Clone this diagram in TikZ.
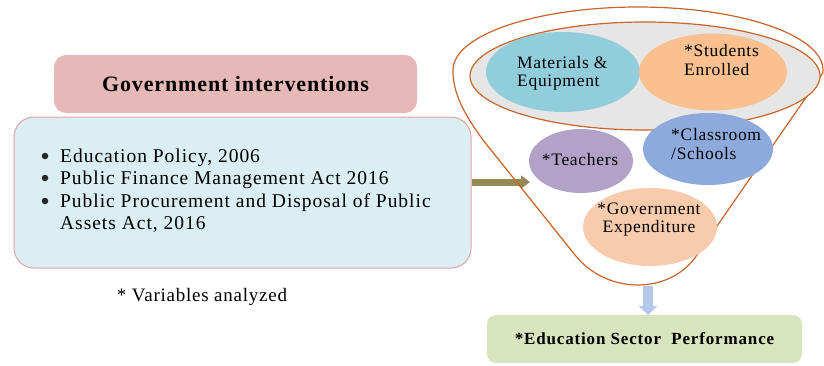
\documentclass[tikz,border=0pt]{standalone}
\usepackage{fontspec}
\setmainfont{Liberation Serif}
\usetikzlibrary{arrows.meta,shapes.geometric}
\definecolor{titlepink}{HTML}{E6B9B8}
\definecolor{boxblue}{HTML}{DAEEF3}
\definecolor{boxborder}{HTML}{E3A3A3}
\definecolor{olive}{HTML}{948A54}
\definecolor{funnelline}{HTML}{C8642A}
\definecolor{innergray}{HTML}{E6E6E6}
\definecolor{teal}{HTML}{92CDDC}
\definecolor{peach}{HTML}{FAC090}
\definecolor{lilac}{HTML}{B3A2C7}
\definecolor{cornflower}{HTML}{8EA9DB}
\definecolor{lightpeach}{HTML}{F8CBAD}
\definecolor{arrowblue}{HTML}{B4C7E7}
\definecolor{sage}{HTML}{D7E4BD}
\begin{document}
\begin{tikzpicture}[x=1pt,y=1pt,
  roundbox/.style={rectangle, rounded corners=12pt, inner sep=0pt},
  bubble/.style={ellipse, inner sep=0pt},
  bubbletext/.style={inner sep=0pt, font=\fontsize{17.5}{18.5}\selectfont\addfontfeature{LetterSpace=4}},
  bullettext/.style={anchor=base west, inner sep=0pt, font=\fontsize{19.5}{22}\selectfont\addfontfeature{LetterSpace=5}},
  bulletmark/.style={circle, fill=black!85, inner sep=0pt, minimum size=6.5pt}
]
\useasboundingbox (0,0) rectangle (824,365);

% left side
\node[roundbox, fill=titlepink, minimum width=363pt, minimum height=58pt,
      font=\fontsize{22}{24}\selectfont\bfseries\addfontfeature{LetterSpace=4}] (title) at (235.5,281) {Government interventions};
\node[roundbox, rounded corners=20pt, fill=boxblue, draw=boxborder, line width=1pt,
      minimum width=457pt, minimum height=151pt] (policies) at (242.5,172.5) {};

\node[bulletmark] (b1) at (45,209) {};
\node[bulletmark] (b2) at (45,187) {};
\node[bulletmark] (b3) at (45,164) {};
\node[bullettext] (l1) at (60,202.5) {Education Policy, 2006};
\node[bullettext] (l2) at (60,180.5) {Public Finance Management Act 2016};
\node[bullettext] (l3) at (60,157.5) {Public Procurement and Disposal of Public};
\node[bullettext] (l4) at (60,135.5) {Assets Act, 2016};

\node[inner sep=0pt, font=\fontsize{19}{21}\selectfont\addfontfeature{LetterSpace=4}] (note) at (202,68) {* Variables analyzed};

% arrow into funnel
\coordinate (funnelin) at (530,183);
\draw[olive, line width=7pt, -{Triangle[width=13pt,length=9pt]}] (policies.east |- funnelin) -- (funnelin);

% funnel outline
\draw[funnelline, line width=1.2pt]
  (822.7,291.7) arc[start angle=-3, end angle=180, x radius=185, y radius=63]
  .. controls (453,270) and (465,250) .. (483,225)
  -- (575,110) .. controls (607,70) and (670,70) .. (697,110) -- cycle;

\node[bubble, fill=innergray, draw=funnelline, line width=1.2pt,
      minimum width=350pt, minimum height=108pt] (top) at (645,289) {};

% bubbles
\node[bubble, fill=teal, minimum width=154pt, minimum height=80pt] (mat) at (563,293) {};
\node[bubble, fill=peach, minimum width=148pt, minimum height=77pt] (stu) at (713,293) {};
\node[bubble, fill=lilac, minimum width=104pt, minimum height=64pt] (tea) at (581,204) {};
\node[bubble, fill=cornflower, minimum width=130pt, minimum height=72pt] (cla) at (708,216) {};
\node[bubble, fill=lightpeach, minimum width=134pt, minimum height=78pt] (gov) at (650,138) {};

\node[bubbletext, anchor=west, align=left] (matT) at (517,291.5) {Materials \&\\Equipment};
\node[bubbletext, anchor=west, align=left] (stuT) at (684,305) {*Students\\Enrolled};
\node[bubbletext] (teaT) at (580,205) {*Teachers};
\node[bubbletext, anchor=west, align=left] (claT) at (671,221) {*Classroom\\/Schools};
\node[bubbletext, align=center] (govT) at (649,145.5) {*Government\\Expenditure};

% output
\node[roundbox, rounded corners=9pt, fill=sage, minimum width=315pt, minimum height=48pt,
      font=\fontsize{17}{19}\selectfont\bfseries\addfontfeature{LetterSpace=5}] (perf) at (644.5,26) {*Education Sector\ \ Performance};

\coordinate (fbot) at (648,79);
\draw[arrowblue, line width=10pt, -{Triangle[width=19pt,length=9pt]}] (fbot) -- (fbot |- perf.north);
\end{tikzpicture}
\end{document}
